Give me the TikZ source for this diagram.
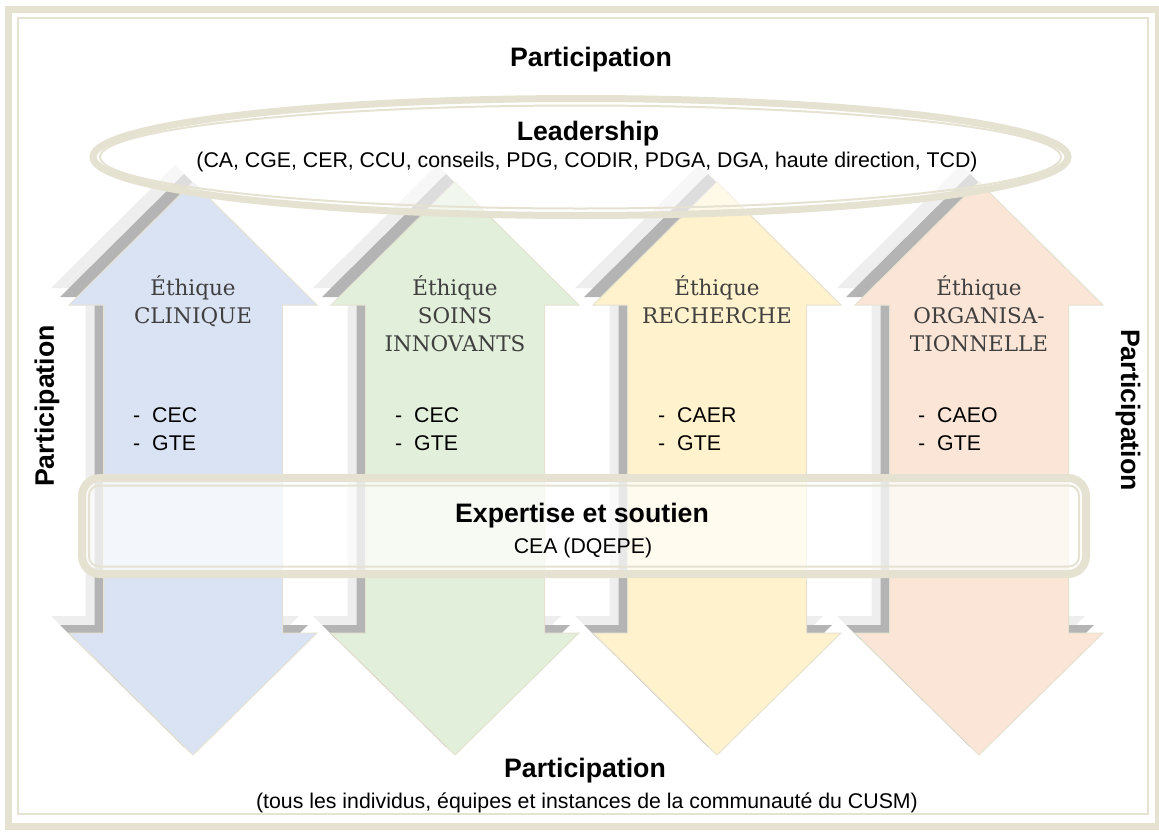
\documentclass[tikz,border=0pt]{standalone}
\usepackage{fontspec}
\setmainfont{Liberation Sans}
\newfontfamily\serifft{DejaVu Serif}
\definecolor{beige}{RGB}{230,226,209}
\definecolor{cblue}{RGB}{218,227,243}
\definecolor{cgreen}{RGB}{226,239,218}
\definecolor{cyellow}{RGB}{255,242,204}
\definecolor{corange}{RGB}{251,229,214}
\definecolor{shdark}{RGB}{180,180,180}
\definecolor{shlight}{RGB}{238,238,238}
\definecolor{txtgray}{RGB}{64,64,64}
\newcommand\dblarrow[1]{(#1,182) -- (#1+124,305) -- (#1+89.5,305) -- (#1+89.5,633) -- (#1+124,633) -- (#1,755) -- (#1-124,633) -- (#1-89.5,633) -- (#1-89.5,305) -- (#1-124,305) -- cycle}
\tikzset{
  ser/.style={font=\serifft\fontsize{21.5}{28}\selectfont, text=txtgray, anchor=base, inner sep=0pt},
  bul/.style={font=\fontsize{21.3}{28}\selectfont, anchor=base west, inner sep=0pt},
  hb/.style={font=\bfseries\fontsize{26.7}{30}\selectfont, anchor=base, inner sep=0pt},
  rg/.style={font=\fontsize{21.3}{26}\selectfont, anchor=base, inner sep=0pt},
  arrowshape/.style={draw=beige, line width=1pt},
}
\begin{document}
\begin{tikzpicture}[x=1pt,y=-1pt]
\useasboundingbox (0,0) rectangle (1159,833);
\fill[white] (0,0) rectangle (1159,833);
% outer frame
\draw[beige, line width=7pt] (8.5,9.7) rectangle (1158.5,826.5);
\draw[beige, line width=2pt] (18,18.3) rectangle (1148,814);
% arrows with shadows
\foreach \cx/\col in {193/cblue,455/cgreen,717/cyellow,979/corange}{
  \fill[shlight, shift={(-18,-17)}] \dblarrow{\cx};
  \fill[shdark, shift={(-9,-8)}] \dblarrow{\cx};
  \filldraw[arrowshape, fill=\col] \dblarrow{\cx};
}
% leadership ellipse
\draw[beige, line width=7pt, fill=white, fill opacity=0.55] (580.5,157) ellipse [x radius=487.5pt, y radius=58.5pt];
\draw[beige, line width=2pt] (580.5,157) ellipse [x radius=480.5pt, y radius=51.5pt];
% expertise band
\draw[beige, line width=8pt, rounded corners=18pt, fill=white, fill opacity=0.7] (82,478) rectangle (1086,574);
\draw[beige, line width=2pt, rounded corners=10pt] (89,485.5) rectangle (1079,566.5);
% texts
\node[hb] (ptop) at (591,66) {Participation};
\node[hb] (lead) at (588,140) {Leadership};
\node[rg] (leadsub) at (587,167) {(CA, CGE, CER, CCU, conseils, PDG, CODIR, PDGA, DGA, haute direction, TCD)};
\node[hb, rotate=90, anchor=center] (pleft) at (47,406) {Participation};
\node[hb, rotate=-90, anchor=center] (pright) at (1128,410) {Participation};
% arrow 1
\node[ser] (e1a) at (193,295) {Éthique};
\node[ser] (e1b) at (193,323) {CLINIQUE};
\node[bul] (b1a) at (133,422) {\makebox[19pt][l]{-}CEC};
\node[bul] (b1b) at (133,450) {\makebox[19pt][l]{-}GTE};
% arrow 2
\node[ser] (e2a) at (455,295) {Éthique};
\node[ser] (e2b) at (455,323) {SOINS};
\node[ser] (e2c) at (455,351) {INNOVANTS};
\node[bul] (b2a) at (395,422) {\makebox[19pt][l]{-}CEC};
\node[bul] (b2b) at (395,450) {\makebox[19pt][l]{-}GTE};
% arrow 3
\node[ser] (e3a) at (717,295) {Éthique};
\node[ser] (e3b) at (717,323) {RECHERCHE};
\node[bul] (b3a) at (658,422) {\makebox[19pt][l]{-}CAER};
\node[bul] (b3b) at (658,450) {\makebox[19pt][l]{-}GTE};
% arrow 4
\node[ser] (e4a) at (979,295) {Éthique};
\node[ser] (e4b) at (979,323) {ORGANISA-};
\node[ser] (e4c) at (979,351) {TIONNELLE};
\node[bul] (b4a) at (918,422) {\makebox[19pt][l]{-}CAEO};
\node[bul] (b4b) at (918,450) {\makebox[19pt][l]{-}GTE};
% expertise
\node[hb] (exp) at (582,522) {Expertise et soutien};
\node[rg] (cea) at (583,553) {CEA (DQEPE)};
% bottom
\node[hb] (pbot) at (585,777) {Participation};
\node[rg] (pbotsub) at (587,808) {(tous les individus, équipes et instances de la communauté du CUSM)};
\end{tikzpicture}
\end{document}
